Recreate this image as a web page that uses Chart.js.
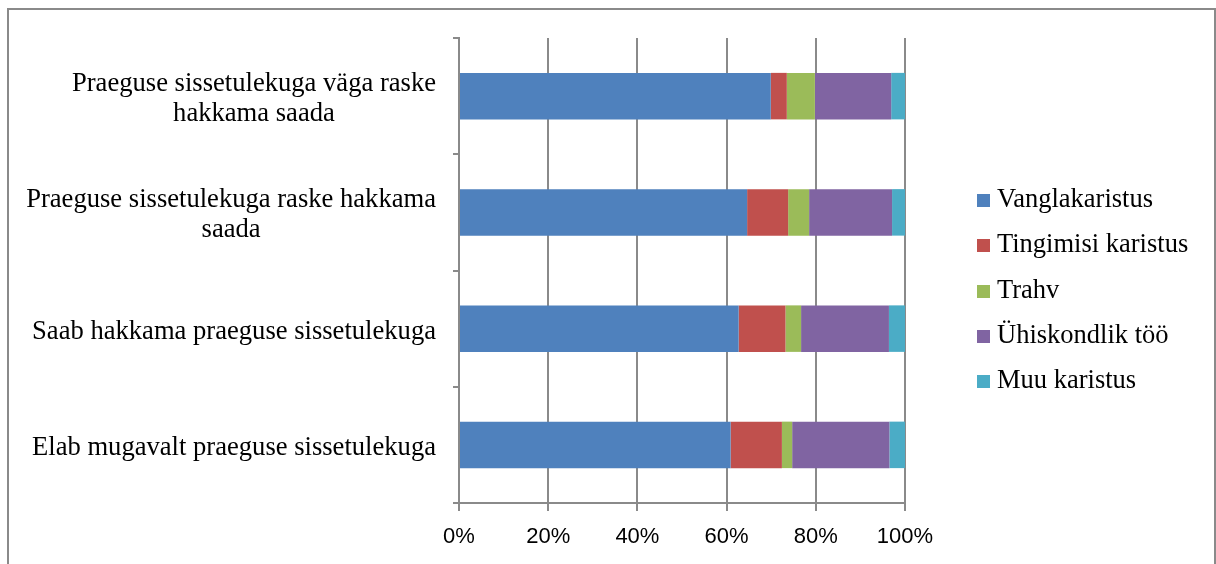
<!DOCTYPE html>
<html>
<head>
<meta charset="utf-8">
<script src="https://cdn.jsdelivr.net/npm/chart.js@4"></script>
<style>
  html, body { margin: 0; padding: 0; background: #fff; }
  body { width: 1216px; height: 564px; overflow: hidden; position: relative; }
  #frame { position: absolute; left: 7px; top: 8px; width: 1209px; height: 600px; border: 2px solid #8a8a8a; border-bottom: none; box-sizing: border-box; }
  #chart { position: absolute; left: 0; top: 0; }
  #legend { position: absolute; left: 977px; top: 176px; font-family: "Liberation Serif", "Times New Roman", serif; font-size: 26.5px; color: #000; }
  #legend div { height: 45.3px; line-height: 45.3px; white-space: nowrap; }
  #legend span.box { display: inline-block; width: 13px; height: 13px; margin-right: 7px; vertical-align: 0px; }
</style>
</head>
<body>
<div id="frame"></div>
<canvas id="chart" width="1216" height="564"></canvas>
<div id="legend"></div>
<script>
// ---------- Dados ----------
const categories = [
  ["Praeguse sissetulekuga väga raske", "hakkama saada"],
  ["Praeguse sissetulekuga raske hakkama", "saada"],
  ["Saab hakkama praeguse sissetulekuga"],
  ["Elab mugavalt praeguse sissetulekuga"]
];

const seriesNames = ["Vanglakaristus", "Tingimisi karistus", "Trahv", "Ühiskondlik töö", "Muu karistus"];
const seriesColors = ["#4F81BD", "#C0504D", "#9BBB59", "#8064A2", "#4BACC6"];

const vanglakaristus = [69.9, 64.6, 62.7, 60.9];
const tingimisi = [3.6, 9.2, 10.5, 11.5];
const trahv = [6.3, 4.7, 3.5, 2.3];
const uhiskondlik = [17.1, 18.6, 19.7, 21.8];
const muu = [3.1, 2.9, 3.6, 3.5];

const xTicks = [0, 20, 40, 60, 80, 100];

const seriesValues = [vanglakaristus, tingimisi, trahv, uhiskondlik, muu];
const gridColor = '#8a8a8a';

// ---------- Kategooriate sildid (rida keskel, plokk paremale joondatud) ----------
const yLabelPlugin = {
  id: 'yLabels',
  afterDraw(chart) {
    const ctx = chart.ctx;
    const yScale = chart.scales.y;
    const rightEdge = 436;
    const lineH = 30;
    ctx.save();
    ctx.font = '26.6px "Liberation Serif", "Times New Roman", serif';
    ctx.fillStyle = '#000';
    ctx.textAlign = 'center';
    ctx.textBaseline = 'middle';
    categories.forEach((lines, i) => {
      const cy = yScale.getPixelForValue(i) + 3;
      const widest = Math.max(...lines.map(l => ctx.measureText(l).width));
      const cx = rightEdge - widest / 2;
      const startY = cy - (lines.length - 1) * lineH / 2;
      lines.forEach((l, j) => ctx.fillText(l, cx, startY + j * lineH));
    });
    ctx.restore();
  }
};

// ---------- Diagramm ----------
const ctx = document.getElementById('chart').getContext('2d');
new Chart(ctx, {
  type: 'bar',
  data: {
    labels: categories,
    datasets: seriesNames.map((name, i) => ({
      label: name,
      data: seriesValues[i],
      backgroundColor: seriesColors[i],
      borderWidth: 0,
      barPercentage: 0.5,
      categoryPercentage: 0.8
    }))
  },
  options: {
    indexAxis: 'y',
    responsive: false,
    animation: false,
    layout: { padding: { top: 38, right: 311, left: 0, bottom: 0 } },
    plugins: { legend: { display: false }, tooltip: { enabled: false } },
    scales: {
      x: {
        stacked: true,
        min: 0,
        max: 100,
        afterFit: s => { s.height = 61; },
        afterBuildTicks: s => { s.ticks = xTicks.map(v => ({ value: v })); },
        ticks: {
          padding: 13,
          color: '#000',
          font: { family: '"Liberation Sans", Arial, sans-serif', size: 22 },
          callback: v => v + '%'
        },
        grid: { color: gridColor, lineWidth: 2, tickLength: 8 },
        border: { color: gridColor, width: 2 }
      },
      y: {
        stacked: true,
        afterFit: s => { s.width = 459; },
        ticks: { display: false },
        grid: { offset: true, drawOnChartArea: false, color: gridColor, lineWidth: 2, tickLength: 6 },
        border: { color: gridColor, width: 2 }
      }
    }
  },
  plugins: [yLabelPlugin]
});

// ---------- Legend ----------
const legend = document.getElementById('legend');
seriesNames.forEach((name, i) => {
  const row = document.createElement('div');
  row.innerHTML = '<span class="box" style="background:' + seriesColors[i] + '"></span>' + name;
  legend.appendChild(row);
});
</script>
</body>
</html>
